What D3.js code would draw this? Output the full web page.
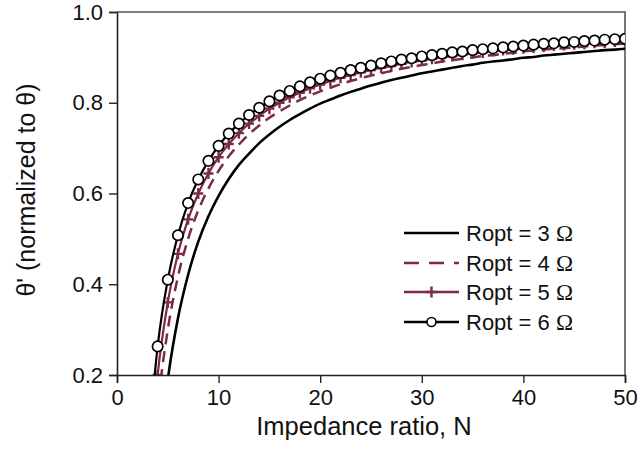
<!DOCTYPE html>
<html><head><meta charset="utf-8">
<script src="https://cdn.jsdelivr.net/npm/d3@7"></script>
<style>
html,body{margin:0;padding:0;background:#fff;}
svg{display:block;font-family:"Liberation Sans",Arial,sans-serif;}
</style></head>
<body><svg id="c" width="639" height="451"></svg>
<script>
const N = [3,4,5,6,7,8,9,10,11,12,13,14,15,16,17,18,19,20,21,22,23,24,25,26,27,28,29,30,31,32,33,34,35,36,37,38,39,40,41,42,43,44,45,46,47,48,49,50];
const ropt3 = [-0.350,-0.013,0.190,0.325,0.421,0.494,0.550,0.595,0.632,0.663,0.688,0.711,0.730,0.747,0.762,0.775,0.787,0.798,0.807,0.816,0.824,0.831,0.838,0.844,0.850,0.855,0.860,0.865,0.869,0.873,0.877,0.881,0.884,0.888,0.891,0.893,0.896,0.899,0.901,0.904,0.906,0.908,0.910,0.912,0.914,0.916,0.917,0.919];
const ropt4 = [-0.167,0.125,0.300,0.417,0.500,0.563,0.611,0.650,0.682,0.708,0.731,0.750,0.767,0.781,0.794,0.806,0.816,0.825,0.833,0.841,0.848,0.854,0.860,0.865,0.870,0.875,0.879,0.883,0.887,0.891,0.894,0.897,0.900,0.903,0.905,0.908,0.910,0.913,0.915,0.917,0.919,0.920,0.922,0.924,0.926,0.927,0.929,0.930];
const ropt5 = [-0.067,0.200,0.360,0.467,0.543,0.600,0.644,0.680,0.709,0.733,0.754,0.771,0.787,0.800,0.812,0.822,0.832,0.840,0.848,0.855,0.861,0.867,0.872,0.877,0.881,0.886,0.890,0.893,0.897,0.900,0.903,0.906,0.909,0.911,0.914,0.916,0.918,0.920,0.922,0.924,0.926,0.927,0.929,0.930,0.932,0.933,0.935,0.936];
const ropt6 = [0.017,0.263,0.410,0.508,0.579,0.631,0.672,0.705,0.732,0.754,0.773,0.789,0.803,0.816,0.826,0.836,0.845,0.853,0.860,0.866,0.872,0.877,0.882,0.887,0.891,0.895,0.898,0.902,0.905,0.908,0.911,0.913,0.916,0.918,0.920,0.922,0.924,0.926,0.928,0.930,0.931,0.933,0.934,0.936,0.937,0.939,0.940,0.941];
const seriesNames = ["Ropt = 3","Ropt = 4","Ropt = 5","Ropt = 6"];
const unitSymbol = "\u03A9";
const xTicks = [0,10,20,30,40,50];
const yTicks = [0.2,0.4,0.6,0.8,1.0];

const maroon = "#7b2a47";
const svg = d3.select("#c");
const L = 117, R = 625, T = 12, B = 375;
const x = d3.scaleLinear().domain([0,50]).range([L,R]);
const y = d3.scaleLinear().domain([0.2,1.0]).range([B,T]);

svg.append("defs").append("clipPath").attr("id","clip")
  .append("rect").attr("x",L).attr("y",T).attr("width",R-L).attr("height",B-T);

svg.append("path").attr("d",`M${L},${T}H${R}V${B}`).attr("fill","none").attr("stroke","#555").attr("stroke-width",1.6);

const g = svg.append("g").attr("clip-path","url(#clip)");
const line = vals => d3.line().curve(d3.curveMonotoneX).x((d,i)=>x(N[i])).y(d=>y(d))(vals);

g.append("path").attr("d",line(ropt3)).attr("fill","none").attr("stroke","#000").attr("stroke-width",2.6);
g.append("path").attr("d",line(ropt4)).attr("fill","none").attr("stroke",maroon).attr("stroke-width",2.5).attr("stroke-dasharray","11,7");
g.append("path").attr("d",line(ropt5)).attr("fill","none").attr("stroke",maroon).attr("stroke-width",2.2);
const idx = d3.range(N.length);
g.selectAll(".cr").data(idx.filter(i=>ropt5[i]>=0.2)).enter().append("path")
  .attr("d",i=>{const cx=x(N[i]), cy=y(ropt5[i]); return `M${cx-5},${cy}H${cx+5}M${cx},${cy-5.5}V${cy+5.5}`;})
  .attr("stroke",maroon).attr("stroke-width",2.4).attr("fill","none");
g.append("path").attr("d",line(ropt6)).attr("fill","none").attr("stroke","#000").attr("stroke-width",2.2);
g.selectAll(".ci").data(idx.filter(i=>ropt6[i]>=0.2)).enter().append("circle")
  .attr("cx",i=>x(N[i])).attr("cy",i=>y(ropt6[i])).attr("r",5.2)
  .attr("fill","#fff").attr("stroke","#000").attr("stroke-width",1.7);

const xa = svg.append("g").attr("transform",`translate(0,${B})`)
  .call(d3.axisBottom(x).tickValues(xTicks).tickSize(8).tickPadding(6).tickFormat(d3.format("d")));
const ya = svg.append("g").attr("transform",`translate(${L},0)`)
  .call(d3.axisLeft(y).tickValues(yTicks).tickSize(8).tickPadding(6).tickFormat(d3.format(".1f")));
[xa,ya].forEach(a=>{
  a.select(".domain").attr("stroke","#222").attr("stroke-width",1.6);
  a.selectAll(".tick line").attr("stroke","#222").attr("stroke-width",1.4);
  a.selectAll(".tick text").attr("font-size",22).attr("fill","#111").attr("font-family","Liberation Sans, Arial, sans-serif");
});

svg.append("text").attr("x",(L+R)/2-7).attr("y",435).attr("text-anchor","middle")
  .attr("font-size",25.5).attr("fill","#111").text("Impedance ratio, N");
svg.append("text").attr("transform","translate(35,190) rotate(-90)").attr("text-anchor","middle")
  .attr("font-size",25).attr("fill","#111").text("\u03B8' (normalized to \u03B8)");

const lg = svg.append("g");
const ly = [233,263,292,322];
const lx0 = 404, lx1 = 459, lxm = (lx0+lx1)/2;
lg.append("line").attr("x1",lx0).attr("x2",lx1).attr("y1",ly[0]).attr("y2",ly[0]).attr("stroke","#000").attr("stroke-width",2.6);
lg.append("line").attr("x1",lx0).attr("x2",lx1).attr("y1",ly[1]).attr("y2",ly[1]).attr("stroke",maroon).attr("stroke-width",2.5).attr("stroke-dasharray","15,10");
lg.append("line").attr("x1",lx0).attr("x2",lx1).attr("y1",ly[2]).attr("y2",ly[2]).attr("stroke",maroon).attr("stroke-width",2.4);
lg.append("path").attr("d",`M${lxm-5},${ly[2]}H${lxm+5}M${lxm},${ly[2]-5.5}V${ly[2]+5.5}`).attr("stroke",maroon).attr("stroke-width",2.4);
lg.append("line").attr("x1",lx0).attr("x2",lx1).attr("y1",ly[3]).attr("y2",ly[3]).attr("stroke","#000").attr("stroke-width",2.4);
lg.append("circle").attr("cx",lxm).attr("cy",ly[3]).attr("r",4.5).attr("fill","#fff").attr("stroke","#000").attr("stroke-width",1.6);
const lt = lg.selectAll("text").data(seriesNames).enter().append("text")
  .attr("x",466).attr("y",(d,i)=>ly[i]).attr("dy","0.36em")
  .attr("font-size",22).attr("fill","#111");
lt.append("tspan").text(d=>d+" ");
lt.append("tspan").attr("font-family","Liberation Serif, Times New Roman, serif").attr("font-size",23).text(unitSymbol);
</script></body></html>
